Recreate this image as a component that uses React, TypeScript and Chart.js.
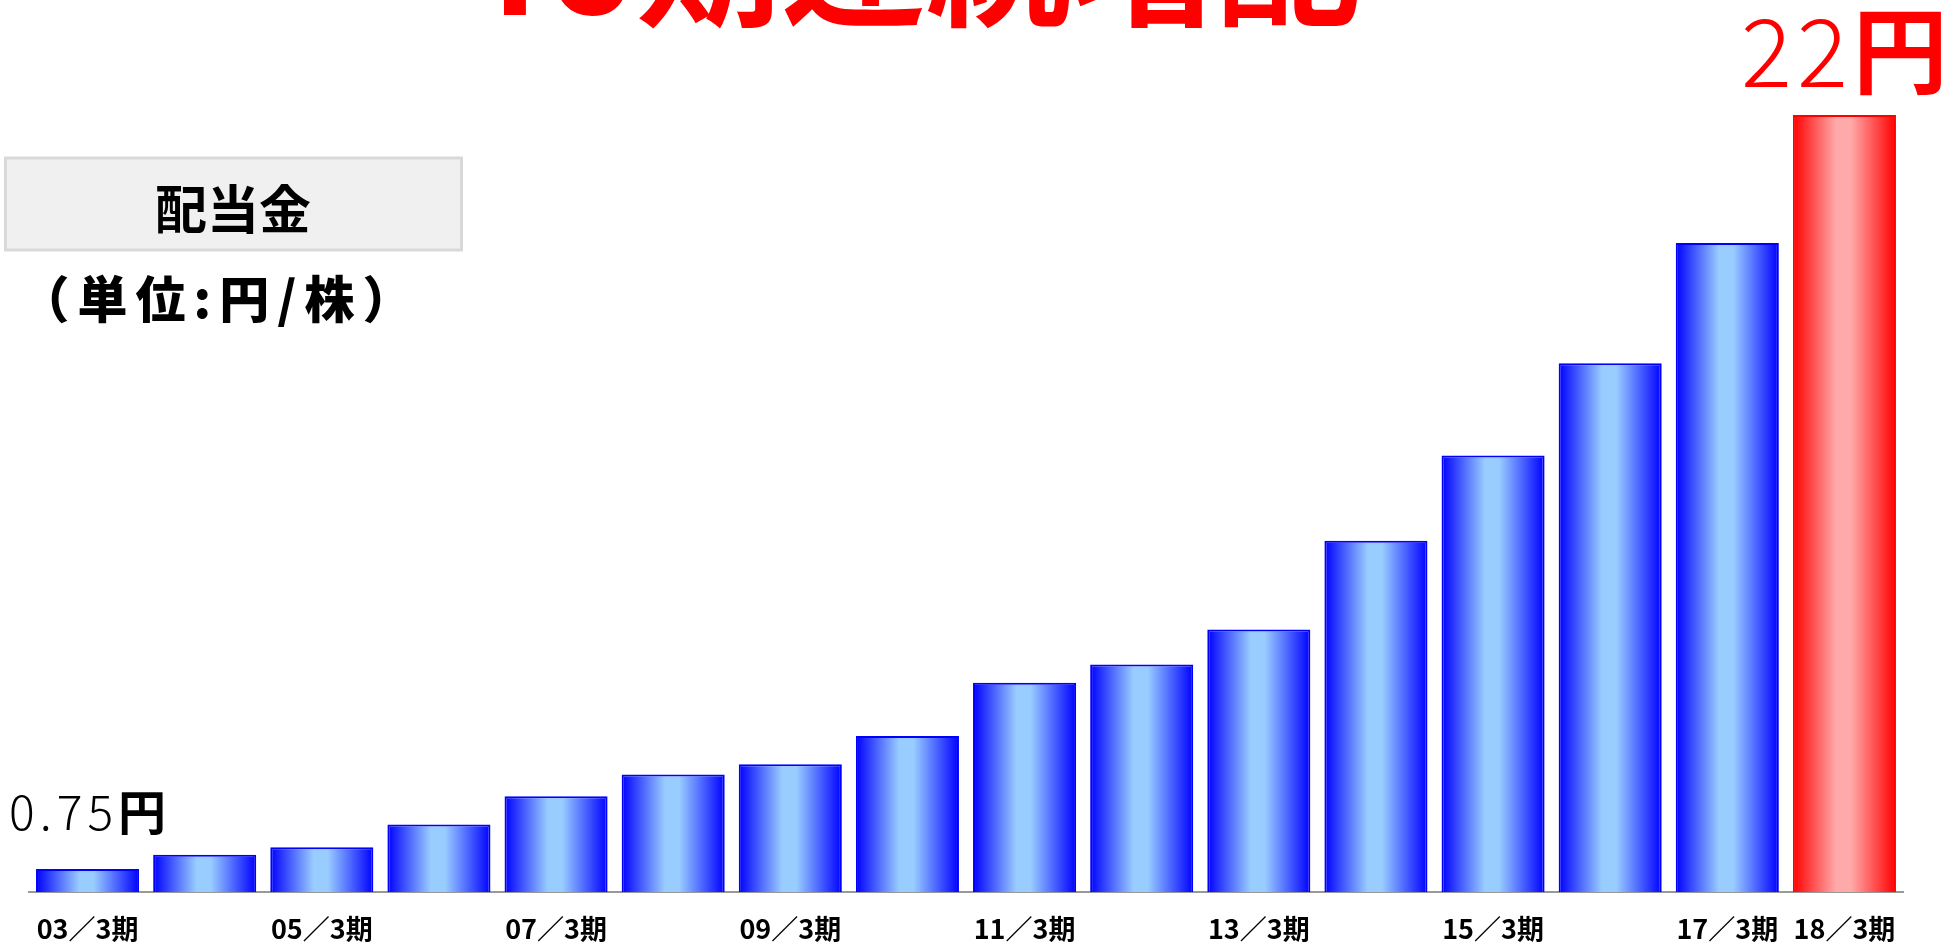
import React, { useEffect, useRef } from 'react';
import { Chart, registerables } from 'chart.js';

Chart.register(...registerables);

const FONT = '"Noto Sans CJK JP", "Noto Sans", sans-serif';
const LATIN_FONT = '"Noto Sans", "Liberation Sans", sans-serif';

// ---- data ----
const periods = [
  '03／3期', '04／3期', '05／3期', '06／3期', '07／3期', '08／3期', '09／3期', '10／3期',
  '11／3期', '12／3期', '13／3期', '14／3期', '15／3期', '16／3期', '17／3期', '18／3期',
];
const dividends = [0.75, 1.15, 1.36, 2.0, 2.8, 3.41, 3.7, 4.5, 6.0, 6.51, 7.5, 10.0, 12.4, 15.0, 18.39, 22];
const shownTickIndexes = [0, 2, 4, 6, 8, 10, 12, 14, 15];
const labelledIndexes = [0, 15];
const highlightIndex = 15;
const titleNumber = '16';
const titleRest = '期連続増配';
const boxLabel = '配当金';
const unitLabel = '（単位:円/株）';
const yenSuffix = '円';
const yMin = 0.1;
const yMax = 22;

const BAR_FRACTION = 0.88;

function barGradient(c: any) {
  const chart = c.chart;
  const isHi = c.dataIndex === highlightIndex;
  const edge = isHi ? '#FF0000' : '#0000FF';
  const mid = isHi ? '#FFAAAA' : '#99CCFF';
  if (!chart.chartArea || c.dataIndex === undefined) return edge;
  const xs = chart.scales.x;
  const cx = xs.getPixelForValue(c.dataIndex);
  const w = (xs.width / periods.length) * BAR_FRACTION;
  const g = chart.ctx.createLinearGradient(cx - w / 2, 0, cx + w / 2, 0);
  g.addColorStop(0, edge);
  g.addColorStop(0.42, mid);
  g.addColorStop(0.56, mid);
  g.addColorStop(1, edge);
  return g;
}

const overlayPlugin = {
  id: 'overlay',
  afterDraw(chart: any) {
    const ctx = chart.ctx as any;
    ctx.save();
    // title (cut at top)
    ctx.fillStyle = '#FF0000';
    ctx.textBaseline = 'alphabetic';
    ctx.textAlign = 'right';
    ctx.font = `bold 145px ${LATIN_FONT}`;
    ctx.fillText(titleNumber, 632, 15);
    ctx.textAlign = 'left';
    ctx.font = `bold 145px ${FONT}`;
    ctx.fillText(titleRest, 636, 15);

    // grey box
    ctx.fillStyle = '#F0F0F0';
    ctx.strokeStyle = '#D9D9D9';
    ctx.lineWidth = 3;
    ctx.beginPath();
    ctx.rect(5.5, 158, 456, 92);
    ctx.fill();
    ctx.stroke();
    ctx.fillStyle = '#000000';
    ctx.textAlign = 'center';
    ctx.font = `bold 52px ${FONT}`;
    ctx.fillText(boxLabel, 233, 229);
    ctx.font = `900 50px ${FONT}`;
    ctx.letterSpacing = '8px';
    ctx.fillText(unitLabel, 220, 318);
    ctx.letterSpacing = '0px';

    // value labels
    const meta = chart.getDatasetMeta(0);
    labelledIndexes.forEach((i) => {
      const el = meta.data[i];
      if (!el) return;
      const hi = i === highlightIndex;
      const size = hi ? 95 : 48;
      const gap = hi ? 28 : 39;
      const spacing = hi ? '5px' : '5px';
      const num = String(dividends[i]);
      ctx.fillStyle = hi ? '#FF0000' : '#000000';
      ctx.textAlign = 'left';
      ctx.letterSpacing = spacing;
      ctx.font = `300 ${size}px ${FONT}`;
      const w1 = ctx.measureText(num).width;
      ctx.letterSpacing = '0px';
      ctx.font = `bold ${size}px ${FONT}`;
      const w2 = ctx.measureText(yenSuffix).width;
      const x0 = el.x - (w1 + w2) / 2;
      const y = el.y - gap;
      ctx.letterSpacing = spacing;
      ctx.font = `300 ${size}px ${FONT}`;
      ctx.fillText(num, x0, y);
      ctx.letterSpacing = '0px';
      ctx.font = `bold ${size}px ${FONT}`;
      ctx.fillText(yenSuffix, x0 + w1, y);
    });
    ctx.restore();
  },
};

export default function App() {
  const ref = useRef<HTMLCanvasElement>(null);
  useEffect(() => {
    if (!ref.current) return;
    const chart = new Chart(ref.current, {
      type: 'bar',
      data: {
        labels: periods,
        datasets: [
          {
            data: dividends,
            backgroundColor: barGradient as any,
            borderColor: dividends.map((_, i) => (i === highlightIndex ? '#FF0000' : '#0000FF')),
            borderWidth: 2,
            barPercentage: BAR_FRACTION,
            categoryPercentage: 1,
          },
        ],
      },
      options: {
        animation: false,
        responsive: false,
        maintainAspectRatio: false,
        layout: { padding: { top: 115, left: 29, right: 49, bottom: 0 } },
        plugins: { legend: { display: false }, tooltip: { enabled: false } },
        scales: {
          x: {
            offset: true,
            grid: { display: false, drawTicks: false },
            border: { display: true, color: '#999999', width: 2 },
            ticks: {
              autoSkip: false,
              maxRotation: 0,
              minRotation: 0,
              padding: 21,
              color: '#000000',
              font: { family: FONT, size: 27, weight: 'bold' },
              callback: (_v: any, idx: number) => (shownTickIndexes.includes(idx) ? periods[idx] : ''),
            },
            afterFit: (scale: any) => {
              scale.height = 52;
            },
          },
          y: { display: false, min: yMin, max: yMax },
        },
      },
      plugins: [overlayPlugin],
    });
    return () => chart.destroy();
  }, []);
  return (
    <div style={{ position: 'fixed', left: 0, top: 0, width: 1952, height: 944, background: '#ffffff' }}>
      <canvas ref={ref} width={1952} height={944} style={{ display: 'block', width: 1952, height: 944 }} />
    </div>
  );
}
